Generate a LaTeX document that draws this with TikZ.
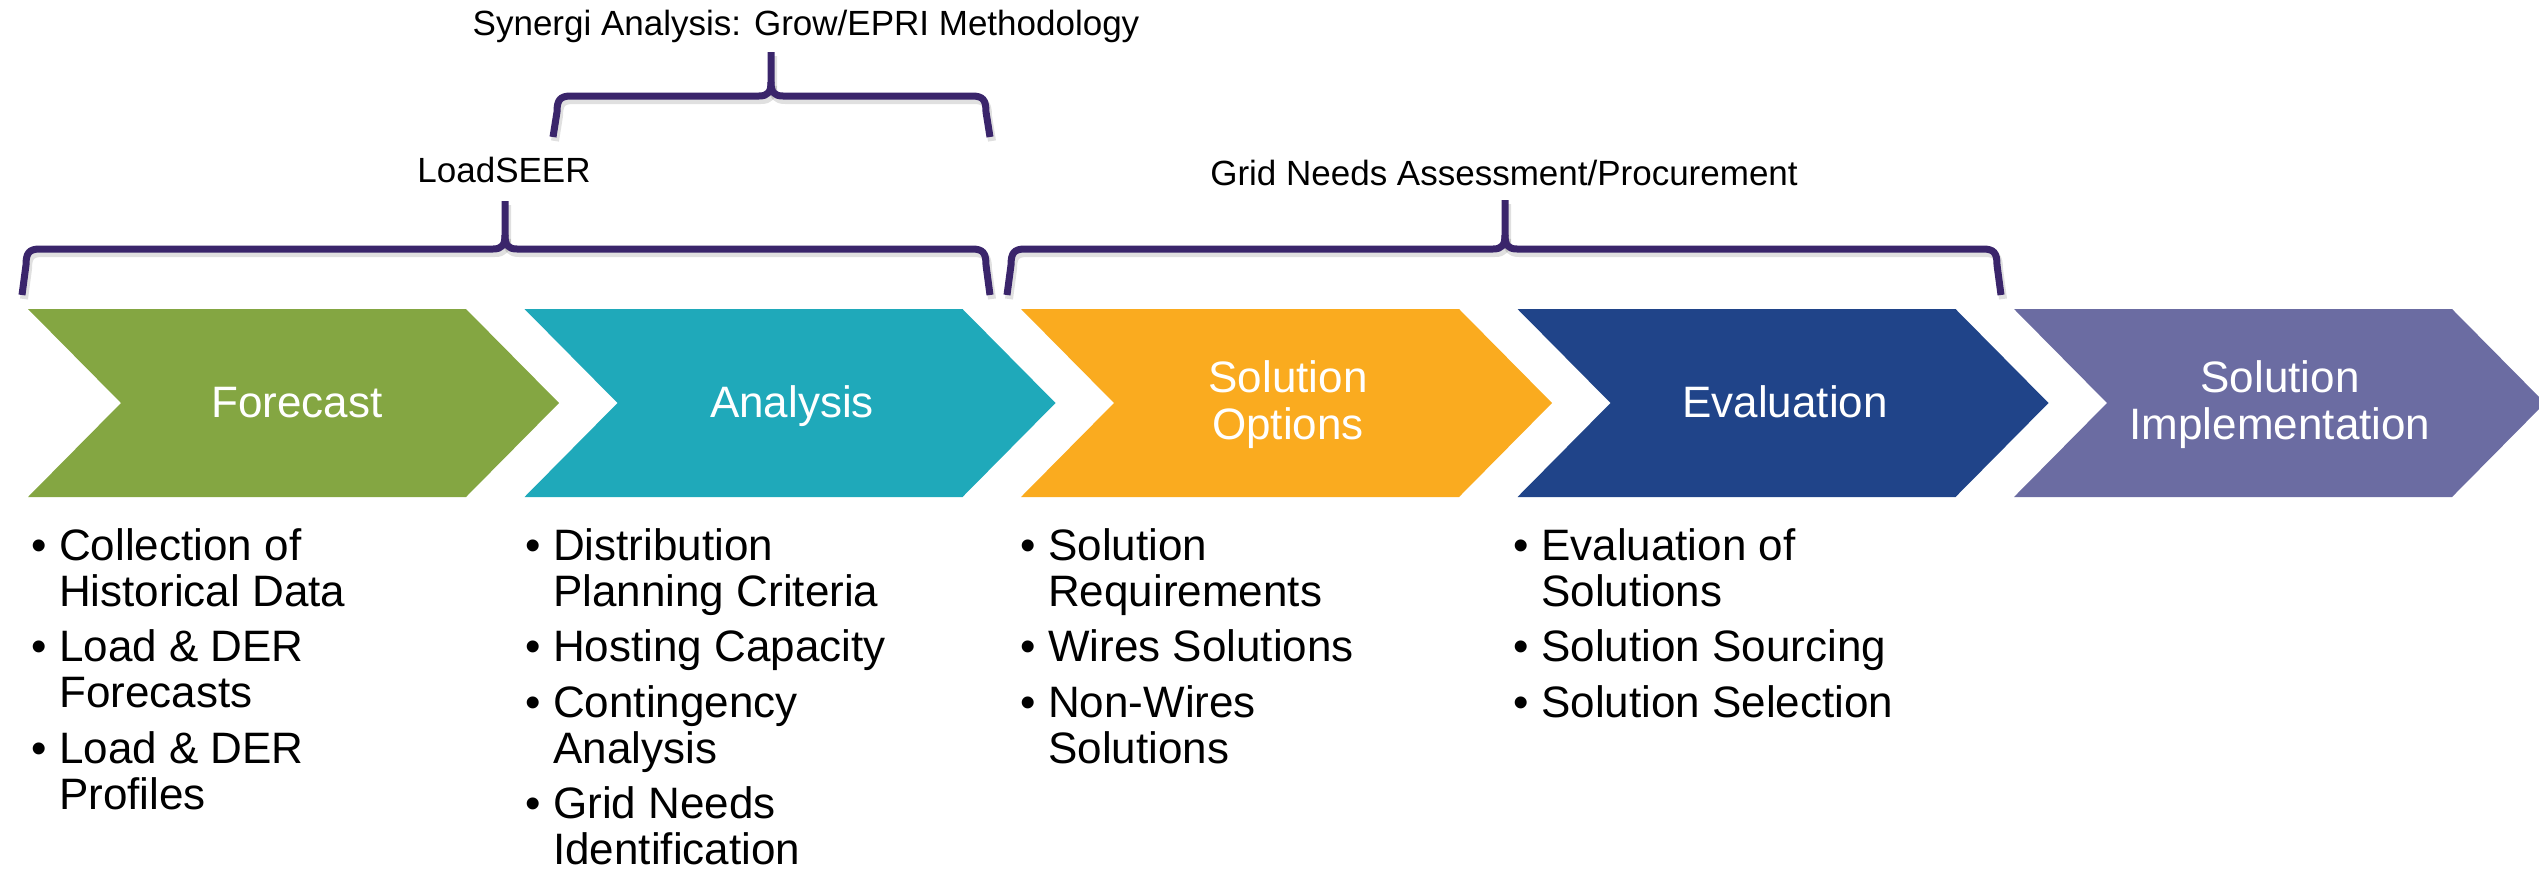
\documentclass[tikz,border=0pt]{standalone}
\usepackage{fontspec}
\setmainfont{Liberation Sans}

\definecolor{cForecast}{RGB}{132,166,66}
\definecolor{cAnalysis}{RGB}{31,169,186}
\definecolor{cOptions}{RGB}{250,171,31}
\definecolor{cEval}{RGB}{32,68,137}
\definecolor{cImpl}{RGB}{107,108,162}
\definecolor{cBrace}{RGB}{58,37,107}

% chevron with left edge #1, filled with colour #2
\newcommand{\chevronshape}[2]{%
  \fill[#2] (#1,309) -- ++(438,0) -- ++(93,94) -- ++(-93,94) -- ++(-438,0) -- ++(93,-94) -- cycle;}

% curly bracket: #1 left x, #2 centre x, #3 right x, #4 bar y, #5 leg end y, #6 tip y
\newcommand{\curlybracket}[6]{%
  \foreach \st in {bshadow,bline}{%
  \draw[\st] (#1,#5) -- (#1+4,#4+16) .. controls (#1+4,#4+4) and (#1+7,#4) .. (#1+18,#4)
      -- (#2-12,#4) .. controls (#2-3,#4) and (#2,#4-4) .. (#2,#4-14) -- (#2,#6);
  \draw[\st] (#2,#4-14) .. controls (#2,#4-4) and (#2+3,#4) .. (#2+12,#4)
      -- (#3-18,#4) .. controls (#3-7,#4) and (#3-4,#4+4) .. (#3-4,#4+16) -- (#3,#5);}}

\begin{document}
\begin{tikzpicture}[x=1pt,y=-1pt,
  bline/.style={draw=cBrace,line width=7pt,line join=round},
  bshadow/.style={draw=black,opacity=0.12,line width=8pt,line join=round,transform canvas={shift={(2pt,-4pt)}}},
  stage/.style={text=white,font=\fontsize{44}{47}\selectfont,align=center,inner sep=0pt,anchor=base},
  toplabel/.style={font=\fontsize{35}{38}\selectfont,inner sep=0pt,anchor=base},
  item/.style={font=\fontsize{44}{46}\selectfont,align=left,inner sep=0pt,anchor=base west}]
\useasboundingbox (0,0) rectangle (2539,868);

% process chevrons
\chevronshape{28}{cForecast}
\chevronshape{524.5}{cAnalysis}
\chevronshape{1021}{cOptions}
\chevronshape{1517.5}{cEval}
\chevronshape{2014}{cImpl}

% stage names (multi-line nodes sit on the baseline of their last line)
\node[stage] (forecast) at (297,417) {Forecast};
\node[stage] (analysis) at (792,417) {Analysis};
\node[stage] (options) at (1288,439) {Solution\\Options};
\node[stage] (evaluation) at (1785,417) {Evaluation};
\node[stage] (implementation) at (2280,439) {Solution\\Implementation};

% brackets and their labels
\curlybracket{22}{505}{990}{249}{295}{201}
\curlybracket{553}{771}{990}{96}{137}{52}
\curlybracket{1007}{1505}{2001}{249}{295}{200}

\node[toplabel] (synergi) at (806,35) {Synergi Analysis: Grow/EPRI Methodology};
\node[toplabel] (loadseer) at (504,182) {LoadSEER};
\node[toplabel] (gridneeds) at (1504,185) {Grid Needs Assessment/Procurement};

% bullet lists under the stages
\newcommand{\bul}{\makebox[28pt][l]{•}}
\newcommand{\ind}{\hspace*{28pt}}
\node[item] (f1) at (31,606) {\bul Collection of\\\ind Historical Data};
\node[item] (f2) at (31,707.5) {\bul Load \& DER\\\ind Forecasts};
\node[item] (f3) at (31,809) {\bul Load \& DER\\\ind Profiles};

\node[item] (a1) at (525,606) {\bul Distribution\\\ind Planning Criteria};
\node[item] (a2) at (525,661.5) {\bul Hosting Capacity};
\node[item] (a3) at (525,763) {\bul Contingency\\\ind Analysis};
\node[item] (a4) at (525,864.5) {\bul Grid Needs\\\ind Identification};

\node[item] (o1) at (1020,606) {\bul Solution\\\ind Requirements};
\node[item] (o2) at (1020,661.5) {\bul Wires Solutions};
\node[item] (o3) at (1020,763) {\bul Non-Wires\\\ind Solutions};

\node[item] (e1) at (1513,606) {\bul Evaluation of\\\ind Solutions};
\node[item] (e2) at (1513,661.5) {\bul Solution Sourcing};
\node[item] (e3) at (1513,717) {\bul Solution Selection};
\end{tikzpicture}
\end{document}
